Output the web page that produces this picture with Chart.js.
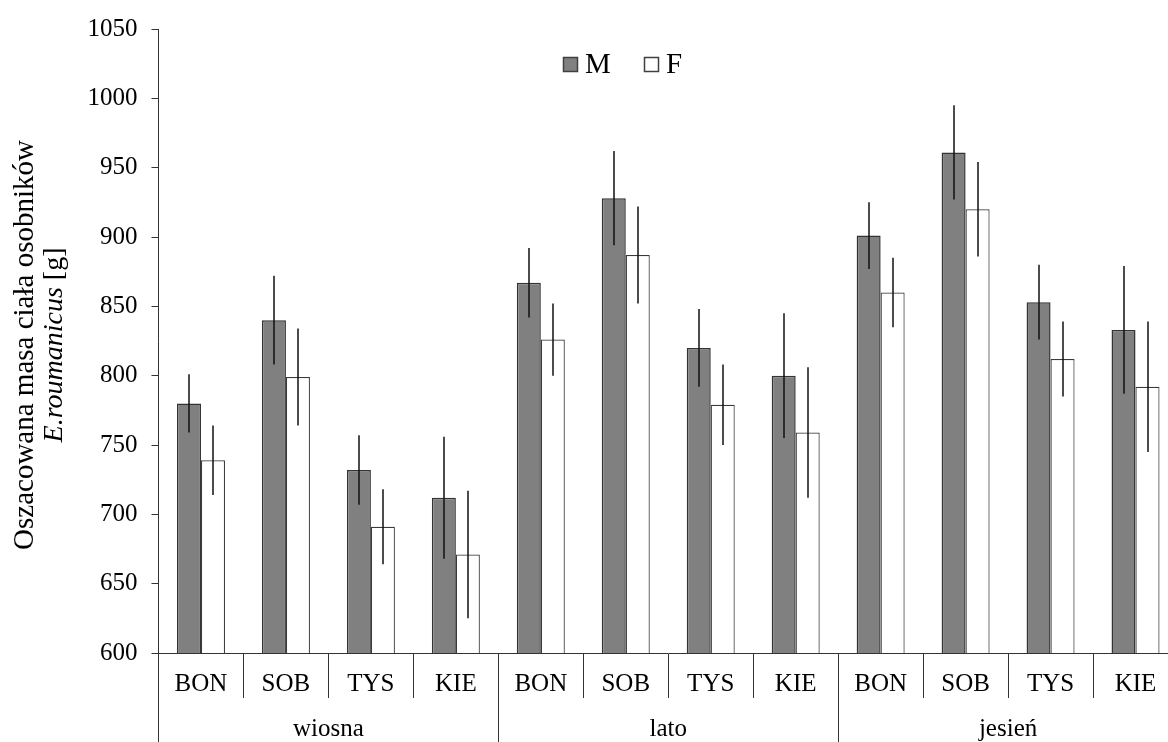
<!DOCTYPE html>
<html lang="pl">
<head>
  <meta charset="utf-8">
  <script src="https://cdn.jsdelivr.net/npm/chart.js@4.4.0/dist/chart.umd.min.js"></script>
  <style>
    html, body { margin: 0; padding: 0; background: #fff; overflow: hidden; }
    /* wykres w oryginale wychodzi kilka pikseli poza prawą krawędź */
    #wrap { width: 1178px; height: 742px; position: relative; }
  </style>
</head>
<body>
  <div id="wrap"><canvas id="chart"></canvas></div>

  <script>
    // dane
    const sites = ['BON', 'SOB', 'TYS', 'KIE', 'BON', 'SOB', 'TYS', 'KIE', 'BON', 'SOB', 'TYS', 'KIE'];
    const seasons = ['wiosna', 'lato', 'jesień'];
    const massM = [780, 840, 732, 712, 867, 928, 820, 800, 901, 961, 853, 833];
    const massF = [739, 799, 691, 671, 826, 887, 779, 759, 860, 920, 812, 792];
    const errM = [21, 32, 25, 44, 25, 34, 28, 45, 24, 34, 27, 46];
    const errF = [25, 35, 27, 46, 26, 35, 29, 47, 25, 34, 27, 47];
    const yTicks = [600, 650, 700, 750, 800, 850, 900, 950, 1000, 1050];
    const seriesNames = ['M', 'F'];

    const SERIF = "'Liberation Serif', 'Times New Roman', serif";
    const LINE = '#333';

    const errorBars = {
      id: 'errorBars',
      afterDatasetsDraw(chart) {
        const ctx = chart.ctx;
        const y = chart.scales.y;
        ctx.save();
        ctx.strokeStyle = '#111';
        ctx.lineWidth = 1.5;
        chart.data.datasets.forEach((ds, i) => {
          chart.getDatasetMeta(i).data.forEach((bar, j) => {
            const v = ds.data[j], e = ds.errors[j];
            const x = Math.round(bar.x);
            ctx.beginPath();
            ctx.moveTo(x, y.getPixelForValue(v + e));
            ctx.lineTo(x, y.getPixelForValue(v - e));
            ctx.stroke();
          });
        });
        ctx.restore();
      }
    };

    const yTitle = {
      id: 'yTitle',
      afterDraw(chart) {
        const ctx = chart.ctx;
        const a = chart.chartArea;
        const cy = (a.top + a.bottom) / 2 + 4;
        ctx.save();
        ctx.fillStyle = '#000';
        ctx.textBaseline = 'middle';
        // pierwsza linia
        ctx.save();
        ctx.translate(25, cy);
        ctx.rotate(-Math.PI / 2);
        ctx.font = '29px ' + SERIF;
        ctx.textAlign = 'center';
        ctx.fillText('Oszacowana masa ciała osobników', 0, 0);
        ctx.restore();
        // druga linia: kursywa + [g]
        ctx.save();
        ctx.translate(55, cy);
        ctx.rotate(-Math.PI / 2);
        ctx.textAlign = 'left';
        const italic = 'italic 28px ' + SERIF, normal = '28px ' + SERIF;
        ctx.font = italic;
        const w1 = ctx.measureText('E.roumanicus').width;
        ctx.font = normal;
        const w2 = ctx.measureText(' [g]').width;
        const x0 = -(w1 + w2) / 2;
        ctx.font = italic;
        ctx.fillText('E.roumanicus', x0, 0);
        ctx.font = normal;
        ctx.fillText(' [g]', x0 + w1, 0);
        ctx.restore();
        ctx.restore();
      }
    };

    const legendBox = {
      id: 'legendBox',
      afterDraw(chart) {
        const ctx = chart.ctx;
        const pos = [563, 644];
        ctx.save();
        ctx.font = '29px ' + SERIF;
        ctx.textBaseline = 'middle';
        chart.data.datasets.forEach((ds, i) => {
          const x = pos[i], top = 57;
          ctx.fillStyle = ds.backgroundColor;
          ctx.fillRect(x, top, 15, 15);
          ctx.strokeStyle = '#404040';
          ctx.lineWidth = 1.5;
          ctx.strokeRect(x + 0.5, top + 0.5, 14, 14);
          ctx.fillStyle = '#000';
          ctx.fillText(ds.label, x + 22, top + 8);
        });
        ctx.restore();
      }
    };

    const ctx = document.getElementById('chart').getContext('2d');
    new Chart(ctx, {
      type: 'bar',
      data: {
        labels: sites,
        datasets: [{
          label: seriesNames[0],
          data: massM,
          errors: errM,
          backgroundColor: '#808080',
          borderColor: '#333333',
          borderWidth: 1.5
        }, {
          label: seriesNames[1],
          data: massF,
          errors: errF,
          backgroundColor: '#ffffff',
          borderColor: '#3a3a3a',
          borderWidth: 1.2
        }]
      },
      options: {
        responsive: true,
        maintainAspectRatio: false,
        animation: false,
        layout: { padding: { top: 25, right: 0, bottom: 0, left: 0 } },
        datasets: { bar: { categoryPercentage: 0.565, barPercentage: 1 } },
        plugins: {
          legend: { display: false },
          tooltip: { enabled: false }
        },
        scales: {
          x: {
            type: 'category',
            offset: true,
            grid: { offset: true, drawOnChartArea: false, tickLength: 45, color: LINE, lineWidth: 1 },
            border: { display: true, color: LINE, width: 1 },
            ticks: { padding: -29, color: '#000', font: { family: SERIF, size: 25 }, autoSkip: false, maxRotation: 0 },
            afterFit: s => { s.height = 45; }
          },
          x2: {
            type: 'category',
            labels: seasons,
            position: 'bottom',
            offset: true,
            grid: { offset: true, drawOnChartArea: false, tickLength: 44, color: LINE, lineWidth: 1 },
            border: { display: false },
            ticks: { padding: -28, color: '#000', font: { family: SERIF, size: 25 }, autoSkip: false, maxRotation: 0 },
            afterFit: s => { s.height = 44; }
          },
          y: {
            min: 600,
            max: 1050,
            afterBuildTicks: s => { s.ticks = yTicks.map(v => ({ value: v })); },
            grid: { drawOnChartArea: false, tickLength: 7, color: LINE, lineWidth: 1 },
            border: { display: true, color: LINE, width: 1 },
            ticks: { padding: 14, color: '#000', font: { family: SERIF, size: 25 }, callback: v => String(v) },
            afterFit: s => { s.width = 158.5; }
          }
        }
      },
      plugins: [errorBars, yTitle, legendBox]
    });
  </script>
</body>
</html>
